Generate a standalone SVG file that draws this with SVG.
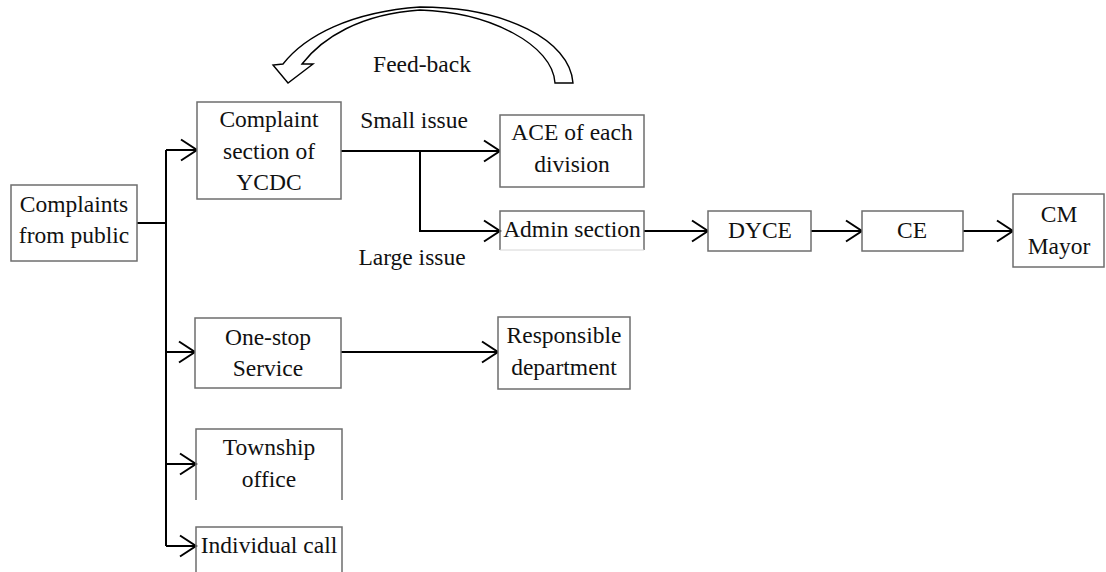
<svg xmlns="http://www.w3.org/2000/svg" width="1106" height="572" viewBox="0 0 1106 572">
  <style>
    .box { fill: #ffffff; stroke: #6e6e6e; stroke-width: 1.5; }
    .side { fill: none; stroke: #6e6e6e; stroke-width: 1.5; }
    .txt { font-family: "Liberation Serif", "Times New Roman", serif; font-size: 23.5px; fill: #111111; text-anchor: middle; }
    .wire { fill: none; stroke: #000000; stroke-width: 2; }
    .fb { fill: #ffffff; stroke: #000000; stroke-width: 1.4; stroke-linejoin: miter; }
  </style>
  <defs>
    <marker id="chev" markerUnits="userSpaceOnUse" markerWidth="20" markerHeight="24" refX="16" refY="11" orient="auto" overflow="visible">
      <path d="M0,0.5 L16,11 L0,21.5" fill="none" stroke="#000000" stroke-width="2"/>
    </marker>
  </defs>
  <rect width="1106" height="572" fill="#ffffff"/>

  <!-- feedback loop arrow -->
  <g id="feedback">
    <path class="fb" d="M573,83 C570,40 505,7 420,7 C350,12 305,36 283,64 L273,65 L288,83 L313,64 L302,64 C322,38 360,14 420,10 C490,12 553,45 555,83 Z"/>
    <text class="txt" x="422" y="72">Feed-back</text>
  </g>

  <!-- connectors -->
  <g id="connectors">
    <path class="wire" d="M137,223 H166"/>
    <path class="wire" d="M166,150 V546"/>
    <path class="wire" d="M166,150 H197" marker-end="url(#chev)"/>
    <path class="wire" d="M166,352 H195" marker-end="url(#chev)"/>
    <path class="wire" d="M166,464 H196" marker-end="url(#chev)"/>
    <path class="wire" d="M166,546 H196" marker-end="url(#chev)"/>
    <path class="wire" d="M341,151 H500" marker-end="url(#chev)"/>
    <path class="wire" d="M420,151 V231 H500" marker-end="url(#chev)"/>
    <path class="wire" d="M644,231 H708" marker-end="url(#chev)"/>
    <path class="wire" d="M811,231 H862" marker-end="url(#chev)"/>
    <path class="wire" d="M963,231 H1013" marker-end="url(#chev)"/>
    <path class="wire" d="M341,352 H498" marker-end="url(#chev)"/>
    <text class="txt" x="414" y="128">Small issue</text>
    <text class="txt" x="412" y="265">Large issue</text>
  </g>

  <g id="public">
    <rect class="box" x="11" y="185" width="126" height="76"/>
    <text class="txt" x="74" y="212">Complaints</text>
    <text class="txt" x="74" y="243">from public</text>
  </g>

  <g id="complaint-section">
    <rect class="box" x="197" y="102" width="144" height="97"/>
    <text class="txt" x="269" y="127">Complaint</text>
    <text class="txt" x="269" y="159">section of</text>
    <text class="txt" x="269" y="190">YCDC</text>
  </g>

  <g id="ace">
    <rect class="box" x="500" y="115" width="144" height="72"/>
    <text class="txt" x="572" y="140">ACE of each</text>
    <text class="txt" x="572" y="172">division</text>
  </g>

  <g id="admin">
    <path class="side" d="M500,250 V211 H644 V250"/>
    <path d="M500,250 H644" fill="none" stroke="#d6d6d6" stroke-width="1"/>
    <text class="txt" x="572" y="237">Admin section</text>
  </g>

  <g id="dyce">
    <rect class="box" x="708" y="211" width="103" height="40"/>
    <text class="txt" x="760" y="238">DYCE</text>
  </g>

  <g id="ce">
    <rect class="box" x="862" y="211" width="101" height="40"/>
    <text class="txt" x="912" y="238">CE</text>
  </g>

  <g id="mayor">
    <rect class="box" x="1013" y="194" width="91" height="73"/>
    <text class="txt" x="1059" y="222">CM</text>
    <text class="txt" x="1059" y="254">Mayor</text>
  </g>

  <g id="one-stop">
    <rect class="box" x="195" y="318" width="146" height="70"/>
    <text class="txt" x="268" y="345">One-stop</text>
    <text class="txt" x="268" y="376">Service</text>
  </g>

  <g id="responsible">
    <rect class="box" x="498" y="317" width="132" height="72"/>
    <text class="txt" x="564" y="343">Responsible</text>
    <text class="txt" x="564" y="375">department</text>
  </g>

  <g id="township">
    <path class="side" d="M196,500 V429 H342 V500"/>
    <text class="txt" x="269" y="455">Township</text>
    <text class="txt" x="269" y="487">office</text>
  </g>

  <g id="individual">
    <path class="side" d="M196,572 V527 H342 V572"/>
    <text class="txt" x="269" y="553">Individual call</text>
  </g>
</svg>
